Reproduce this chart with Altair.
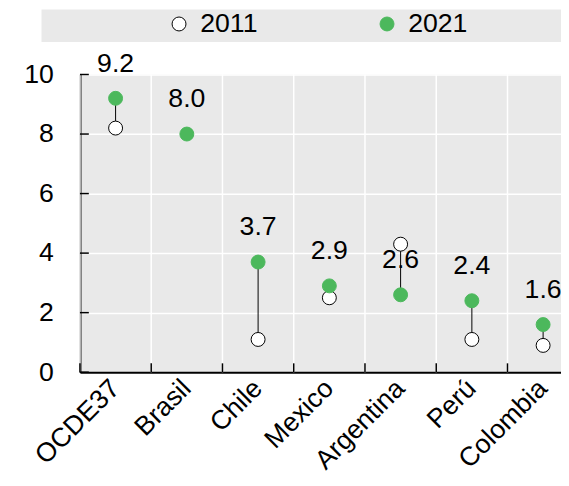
import altair as alt
import pandas as pd

countries = ["OCDE37", "Brasil", "Chile", "Mexico", "Argentina", "Perú", "Colombia"]
v2011 = [8.2, None, 1.1, 2.5, 4.3, 1.1, 0.9]
v2021 = [9.2, 8.0, 3.7, 2.9, 2.6, 2.4, 1.6]
years = ["2011", "2021"]
y_ticks = [0, 2, 4, 6, 8, 10]

FONT = "Liberation Sans, Arial, sans-serif"
GREEN = "#4cb85c"
BG = "#e9e9e9"
W, H = 488, 302
FS = 27

wide = pd.DataFrame({"country": countries, "v2011": v2011, "v2021": v2021})
long = pd.DataFrame(
    [
        {"country": c, "year": y, "value": v}
        for c, a, b in zip(countries, v2011, v2021)
        for y, v in zip(years, [a, b])
        if v is not None
    ]
)
ticks_df = pd.DataFrame({"t": y_ticks})
cat_df = pd.DataFrame({"country": countries})

xscale = alt.Scale(type="band", domain=countries, range=[0, 506], paddingInner=0, paddingOuter=0)
yscale = alt.Scale(domain=[0, 10], nice=False)

xaxis = alt.Axis(
    title=None, grid=False, ticks=False, domainColor="black", domainWidth=2,
    labelAngle=-45, labelAlign="right", labelBaseline="middle", labelPadding=12,
    labelFontSize=FS, labelFont=FONT, labelColor="black",
)
yaxis = alt.Axis(
    title=None, values=y_ticks, grid=True, gridColor="white", gridWidth=1.5,
    ticks=False, domainColor="black", domainWidth=2, labelFontSize=FS,
    labelFont=FONT, labelColor="black", labelPadding=27,
)

x_c = alt.X("country:N", scale=xscale, axis=xaxis, sort=countries)
x_edge = alt.X("country:N", scale=xscale, axis=xaxis, sort=countries, bandPosition=0)

leg = alt.Legend(
    orient="none", legendX=87, legendY=-65, direction="horizontal", columns=2,
    title=None, symbolSize=200, symbolStrokeWidth=1, symbolType="circle",
    labelFontSize=FS, labelFont=FONT, labelColor="black", labelOffset=8,
    columnPadding=117, padding=0,
)

band = alt.Chart(pd.DataFrame({"a": [0]})).mark_rect(color=BG).encode(
    x=alt.value(-39), x2=alt.value(W), y=alt.value(-66), y2=alt.value(-33)
)

vgrid = alt.Chart(cat_df).mark_rule(color="white", strokeWidth=1.5).encode(
    x=x_edge, y=alt.value(0), y2=alt.value(H)
)
xticks = alt.Chart(cat_df).mark_rule(color="black", strokeWidth=1.5).encode(
    x=x_edge, y=alt.value(H - 9), y2=alt.value(H)
)
yticks = alt.Chart(ticks_df).mark_rule(color="black", strokeWidth=1.5).encode(
    y=alt.Y("t:Q", scale=yscale, axis=yaxis), x=alt.value(0), x2=alt.value(9)
)

labels = alt.Chart(wide).mark_text(
    fontSize=FS, font=FONT, baseline="alphabetic", dy=-27, color="black"
).encode(
    x=x_c, y=alt.Y("v2021:Q", scale=yscale, axis=yaxis), text=alt.Text("v2021:Q", format=".1f")
)

stems = alt.Chart(wide).mark_rule(color="black", strokeWidth=1).encode(
    x=x_c, y=alt.Y("v2011:Q", scale=yscale, axis=yaxis), y2="v2021:Q"
)

points = alt.Chart(long).mark_circle(size=200, opacity=1, strokeWidth=1).encode(
    x=x_c,
    y=alt.Y("value:Q", scale=yscale, axis=yaxis),
    fill=alt.Fill("year:N", scale=alt.Scale(domain=years, range=["white", GREEN]), legend=leg),
    stroke=alt.Stroke("year:N", scale=alt.Scale(domain=years, range=["black", GREEN]), legend=leg),
    order=alt.Order("year:N"),
)

chart = alt.layer(band, vgrid, xticks, yticks, labels, stems, points).properties(
    width=W, height=H,
    autosize=alt.AutoSizeParams(type="none"),
    padding={"left": 73, "top": 64, "right": 0, "bottom": 113},
).configure_view(fill=BG, stroke=None)

chart.save("out.html", embed_options={"renderer": "svg", "actions": False})
